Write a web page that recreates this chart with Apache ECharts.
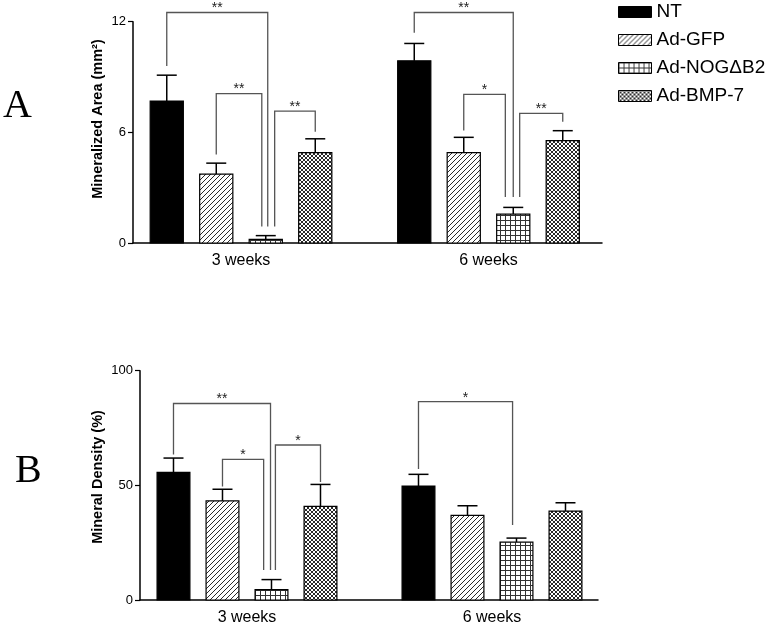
<!DOCTYPE html>
<html>
<head>
<meta charset="utf-8">
<script src="https://cdn.jsdelivr.net/npm/echarts@6/dist/echarts.min.js"></script>
<style>
html,body{margin:0;padding:0;background:#fff;}
#main{width:771px;height:626px;}
</style>
</head>
<body>
<div id="main"></div>
<script>
// ---------------- data ----------------
const groups = ['3 weeks', '6 weeks'];
const treatments = ['NT', 'Ad-GFP', 'Ad-NOG\u0394B2', 'Ad-BMP-7'];
const areaTicks = [0, 6, 12];
const densityTicks = [0, 50, 100];

// Mineralized area (mm2): mean and SEM per group [3 weeks, 6 weeks]
const areaNT = [7.7, 9.88];
const areaNTErr = [1.4, 0.94];
const areaGFP = [3.74, 4.9];
const areaGFPErr = [0.59, 0.83];
const areaNOG = [0.2, 1.57];
const areaNOGErr = [0.2, 0.36];
const areaBMP = [4.9, 5.55];
const areaBMPErr = [0.75, 0.54];

// Mineral density (%)
const densNT = [55.7, 49.7];
const densNTErr = [6.2, 5.1];
const densGFP = [43.2, 36.9];
const densGFPErr = [5.1, 4.2];
const densNOG = [4.5, 25.2];
const densNOGErr = [4.4, 1.8];
const densBMP = [40.8, 38.8];
const densBMPErr = [9.6, 3.6];

// significance brackets: [group, fromBar, toBar, top, leftEnd, rightEnd]
const areaBrackets = [
  [0, 0, 2.04, 12.5, 9.6, 0.9],
  [0, 1, 1.92, 8.1, 4.8, 0.9],
  [0, 2.18, 3, 7.15, 0.9, 6.03],
  [1, 0, 2.0, 12.5, 11.4, 2.5],
  [1, 1, 1.84, 8.06, 6.1, 2.5],
  [1, 2.13, 3, 7.03, 2.5, 6.57]
];
const areaStars = ['**', '**', '**', '**', '*', '**'];
const densityBrackets = [
  [0, 0, 1.98, 85.7, 63.5, 13.1],
  [0, 1, 1.84, 61.3, 49.5, 13.1],
  [0, 2.08, 3, 67.6, 13.1, 51.5],
  [1, 0, 1.92, 86.5, 57.1, 32.7]
];
const densityStars = ['**', '*', '*', '*'];

// ---------------- styles ----------------
const FONT = '"Liberation Sans", Arial, Helvetica, sans-serif';
const STEP = 0.2;      // distance between bars in axis units
const BAR_W = 0.134;   // bar width in axis units
const CAP = 10;        // half cap width px

function makeCanvas(w, h, draw) {
  const c = document.createElement('canvas');
  c.width = w; c.height = h;
  const ctx = c.getContext('2d');
  ctx.fillStyle = '#fff'; ctx.fillRect(0, 0, w, h);
  draw(ctx);
  return c;
}
const patDiag = makeCanvas(5, 5, ctx => {
  ctx.strokeStyle = '#2a2a2a'; ctx.lineWidth = 1;
  ctx.beginPath();
  ctx.moveTo(-1, 6); ctx.lineTo(6, -1);
  ctx.moveTo(-1, 1); ctx.lineTo(1, -1);
  ctx.moveTo(4, 6); ctx.lineTo(6, 4);
  ctx.stroke();
});
const patGrid = makeCanvas(5, 5, ctx => {
  ctx.fillStyle = '#333';
  ctx.fillRect(0, 0, 5, 1);
  ctx.fillRect(0, 0, 1, 5);
});
const patCross = makeCanvas(4, 4, ctx => {
  ctx.strokeStyle = '#2a2a2a'; ctx.lineWidth = 1;
  ctx.beginPath();
  ctx.moveTo(-1, 5); ctx.lineTo(5, -1);
  ctx.moveTo(-1, -1); ctx.lineTo(5, 5);
  ctx.stroke();
});
const fills = [
  '#000',
  { image: patDiag, repeat: 'repeat' },
  { image: patGrid, repeat: 'repeat' },
  { image: patCross, repeat: 'repeat' }
];

function barRender(sIdx) {
  return function (params, api) {
    const g = api.value(0), v = api.value(1), e = api.value(2);
    const xc = g + 1 + (sIdx - 1.5) * STEP;
    const p0 = api.coord([xc - BAR_W / 2, 0]);
    const p1 = api.coord([xc + BAR_W / 2, v]);
    const pc = api.coord([xc, v]);
    const pe = api.coord([xc, v + e]);
    return {
      type: 'group',
      children: [
        { type: 'line', shape: { x1: pc[0], y1: pc[1], x2: pe[0], y2: pe[1] }, style: { stroke: '#000', lineWidth: 1.5 } },
        { type: 'line', shape: { x1: pe[0] - CAP, y1: pe[1], x2: pe[0] + CAP, y2: pe[1] }, style: { stroke: '#000', lineWidth: 1.5 } },
        { type: 'rect', shape: { x: p0[0], y: p1[1], width: p1[0] - p0[0], height: p0[1] - p1[1] },
          style: { fill: fills[sIdx], stroke: '#000', lineWidth: 1.2 } }
      ]
    };
  };
}

function bracketRender(stars) {
  return function (params, api) {
    const g = api.value(0);
    const xa = g + 1 + (api.value(1) - 1.5) * STEP;
    const xb = g + 1 + (api.value(2) - 1.5) * STEP;
    const top = api.value(3);
    const a0 = api.coord([xa, top]), a1 = api.coord([xa, api.value(4)]);
    const b0 = api.coord([xb, top]), b1 = api.coord([xb, api.value(5)]);
    return {
      type: 'group',
      children: [
        { type: 'polyline', shape: { points: [[a1[0], a1[1]], [a0[0], a0[1]], [b0[0], b0[1]], [b1[0], b1[1]]] },
          style: { stroke: '#555', lineWidth: 1.3, fill: null } },
        { type: 'text', style: { text: stars[params.dataIndex], x: (a0[0] + b0[0]) / 2, y: a0[1] + 3,
          textAlign: 'center', textVerticalAlign: 'bottom', font: '14px ' + FONT, fill: '#222' } }
      ]
    };
  };
}

function seriesFor(gridIdx, arrays) {
  return arrays.map((pair, i) => ({
    type: 'custom',
    name: treatments[i],
    xAxisIndex: gridIdx, yAxisIndex: gridIdx,
    itemStyle: { color: fills[i], borderColor: '#000', borderWidth: 1 },
    renderItem: barRender(i),
    encode: { x: 0, y: 1 },
    data: groups.map((gname, g) => [g, pair[0][g], pair[1][g]]),
    z: 3
  }));
}

const axisLineStyle = { lineStyle: { color: '#000', width: 1.5 } };

function xAxisFor(gridIdx, min, max) {
  return {
    type: 'value', gridIndex: gridIdx, min: min, max: max,
    splitLine: { show: false },
    axisLine: axisLineStyle,
    axisTick: { show: false },
    axisLabel: {
      customValues: [1, 2],
      formatter: v => groups[Math.round(v) - 1] || '',
      color: '#000', fontSize: 16, fontFamily: FONT, margin: 10
    }
  };
}
function yAxisFor(gridIdx, ticks) {
  return {
    type: 'value', gridIndex: gridIdx, min: ticks[0], max: ticks[ticks.length - 1],
    interval: ticks[1] - ticks[0],
    splitLine: { show: false },
    axisLine: { show: true, lineStyle: { color: '#000', width: 1.5 } },
    axisTick: { show: true, length: 5, lineStyle: { color: '#000', width: 1.2 } },
    axisLabel: { color: '#000', fontSize: 13, fontFamily: FONT, margin: 7 }
  };
}

const chart = echarts.init(document.getElementById('main'), null, { renderer: 'canvas' });
chart.setOption({
  animation: false,
  backgroundColor: '#fff',
  grid: [
    { left: 133, right: 169, top: 21.7, bottom: 383 },
    { left: 140, right: 173, top: 370.7, bottom: 26 }
  ],
  xAxis: [xAxisFor(0, 0.5636, 2.4586), xAxisFor(1, 0.5633, 2.4327)],
  yAxis: [yAxisFor(0, areaTicks), yAxisFor(1, densityTicks)],
  legend: {
    orient: 'vertical', left: 618, top: 2, padding: 0,
    itemWidth: 33, itemHeight: 11, itemGap: 8, icon: 'rect',
    itemStyle: { borderColor: '#000', borderWidth: 1 },
    textStyle: { color: '#000', fontSize: 19, fontFamily: FONT, lineHeight: 20 },
    data: treatments
  },
  graphic: [
    { type: 'text', left: 3, top: 86, style: { text: 'A', font: '40px "Liberation Serif", "Times New Roman", serif', fill: '#000' } },
    { type: 'text', left: 15, top: 451, style: { text: 'B', font: '40px "Liberation Serif", "Times New Roman", serif', fill: '#000' } },
    { type: 'text', x: 98, y: 119, rotation: Math.PI / 2,
      style: { text: 'Mineralized Area (mm\u00B2)', font: 'bold 14.5px ' + FONT, fill: '#000', textAlign: 'center', textVerticalAlign: 'middle' } },
    { type: 'text', x: 98, y: 477, rotation: Math.PI / 2,
      style: { text: 'Mineral Density (%)', font: 'bold 14.5px ' + FONT, fill: '#000', textAlign: 'center', textVerticalAlign: 'middle' } }
  ],
  series: [
    ...seriesFor(0, [[areaNT, areaNTErr], [areaGFP, areaGFPErr], [areaNOG, areaNOGErr], [areaBMP, areaBMPErr]]),
    ...seriesFor(1, [[densNT, densNTErr], [densGFP, densGFPErr], [densNOG, densNOGErr], [densBMP, densBMPErr]]),
    {
      type: 'custom', name: 'sigA', xAxisIndex: 0, yAxisIndex: 0,
      renderItem: bracketRender(areaStars), encode: { x: 0, y: 3 },
      data: areaBrackets, z: 4, silent: true
    },
    {
      type: 'custom', name: 'sigB', xAxisIndex: 1, yAxisIndex: 1,
      renderItem: bracketRender(densityStars), encode: { x: 0, y: 3 },
      data: densityBrackets, z: 4, silent: true
    }
  ]
});
</script>
</body>
</html>
